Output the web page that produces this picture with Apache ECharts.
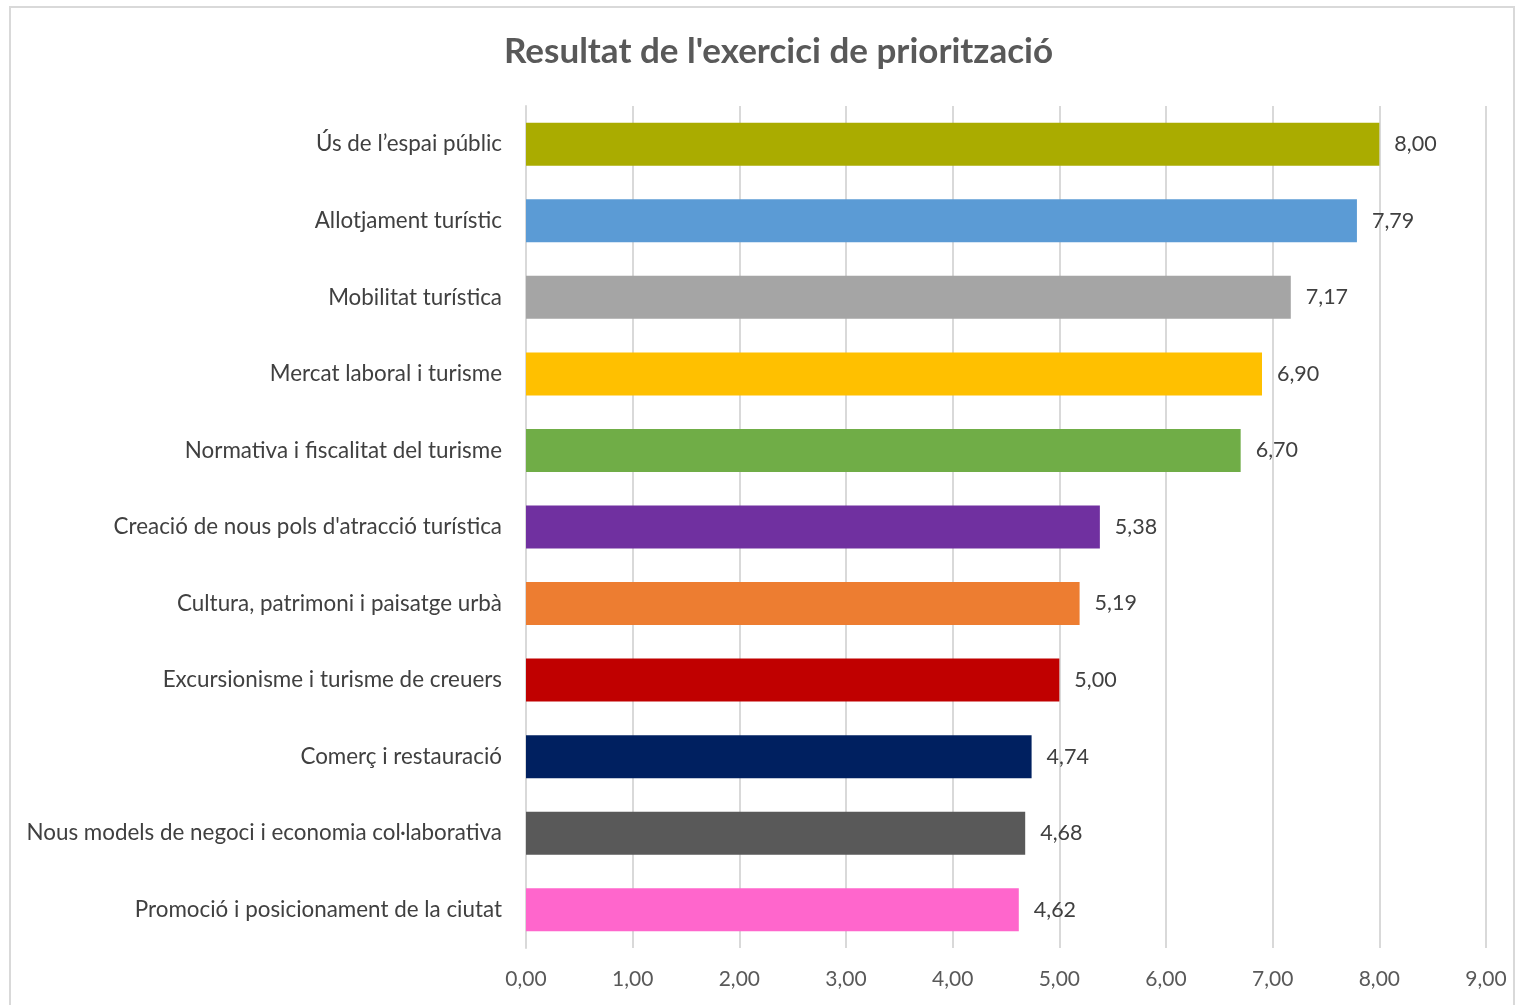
<!DOCTYPE html>
<html>
<head>
<meta charset="utf-8">
<title>Resultat de l'exercici de priorització</title>
<script src="https://cdn.jsdelivr.net/npm/echarts@6/dist/echarts.min.js"></script>
<style>
  html, body { margin: 0; padding: 0; background: #fff; }
  #frame {
    position: absolute; left: 9px; top: 6px; width: 1506px; height: 1010px;
    border: 2px solid #d9d9d9; box-sizing: border-box;
  }
  #chart { position: absolute; left: 0; top: 0; width: 1517px; height: 1005px; }
</style>
</head>
<body>
<div id="frame"></div>
<div id="chart"></div>
<script>
// categories from top to bottom
const categories = [
  'Ús de l’espai públic',
  'Allotjament turístic',
  'Mobilitat turística',
  'Mercat laboral i turisme',
  'Normativa i fiscalitat del turisme',
  "Creació de nous pols d'atracció turística",
  'Cultura, patrimoni i paisatge urbà',
  'Excursionisme i turisme de creuers',
  'Comerç i restauració',
  'Nous models de negoci i economia col·laborativa',
  'Promoció i posicionament de la ciutat'
]
const scores = [8.00, 7.79, 7.17, 6.90, 6.70, 5.38, 5.19, 5.00, 4.74, 4.68, 4.62]
const barColors = [
  '#aaac00', '#5b9bd5', '#a5a5a5', '#ffc000', '#70ad47', '#7030a0',
  '#ed7d31', '#c00000', '#002060', '#595959', '#ff66cc'
]

const fmt = v => v.toFixed(2).replace('.', ',')
const font = 'Lato, "Open Sans", sans-serif'

const chart = echarts.init(document.getElementById('chart'))
chart.setOption({
  animation: false,
  title: {
    text: "Resultat de l'exercici de priorització",
    left: 499,
    top: 29,
    textStyle: { fontFamily: font, fontSize: 35, fontWeight: 'bold', color: '#595959' }
  },
  grid: { left: 526, right: 31, top: 106, bottom: 57 },
  xAxis: {
    type: 'value',
    min: 0,
    max: 9,
    interval: 1,
    axisLine: { show: false },
    axisTick: { show: false },
    axisLabel: {
      formatter: fmt, color: '#595959', fontSize: 21, fontFamily: font, margin: 21
    },
    splitLine: { lineStyle: { color: '#d9d9d9', width: 2 } }
  },
  yAxis: {
    type: 'category',
    inverse: true,
    data: categories,
    axisLine: { lineStyle: { color: '#d9d9d9', width: 2 } },
    axisTick: { show: false },
    axisLabel: { color: '#404040', fontSize: 22.4, fontFamily: font, margin: 24 }
  },
  series: [{
    type: 'bar',
    barWidth: 43,
    data: scores.map((v, i) => ({ value: v, itemStyle: { color: barColors[i] } })),
    label: {
      show: true,
      position: 'right',
      distance: 15,
      formatter: p => fmt(p.value),
      color: '#404040',
      fontSize: 21.5,
      fontFamily: font
    }
  }]
})
</script>
</body>
</html>
